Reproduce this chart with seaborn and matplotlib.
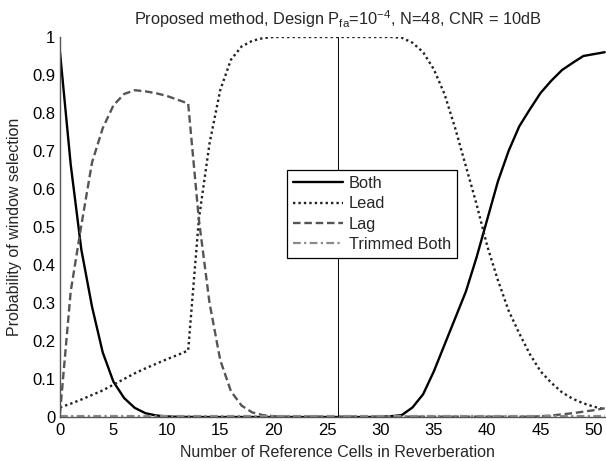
import numpy as np
import pandas as pd
import matplotlib
matplotlib.use("Agg")
import matplotlib.pyplot as plt
import seaborn as sns

# Number of reference cells in reverberation
cells = list(range(0, 52))

p_both = [0.96, 0.665, 0.44, 0.29, 0.17, 0.093, 0.05, 0.024, 0.01, 0.004,
          0.0015, 0.0005, 0.0002, 0.0001, 0, 0, 0, 0, 0, 0,
          0, 0, 0, 0, 0, 0, 0, 0, 0, 0,
          0.0005, 0.002, 0.005, 0.025, 0.06, 0.12, 0.19, 0.26, 0.33, 0.42,
          0.52, 0.62, 0.70, 0.765, 0.81, 0.853, 0.885, 0.913, 0.932, 0.95,
          0.955, 0.96]

p_lead = [0.025, 0.035, 0.046, 0.058, 0.07, 0.085, 0.1, 0.115, 0.128, 0.14,
          0.152, 0.163, 0.175, 0.52, 0.72, 0.86, 0.94, 0.975, 0.99, 0.997,
          1.0, 1.0, 1.0, 1.0, 1.0, 1.0, 1.0, 1.0, 1.0, 1.0,
          1.0, 1.0, 0.998, 0.985, 0.96, 0.915, 0.85, 0.76, 0.66, 0.56,
          0.45, 0.36, 0.28, 0.22, 0.165, 0.12, 0.09, 0.065, 0.048, 0.036,
          0.027, 0.02]

p_lag = [0.01, 0.33, 0.505, 0.67, 0.76, 0.82, 0.85, 0.86, 0.857, 0.852,
         0.845, 0.835, 0.825, 0.52, 0.30, 0.15, 0.068, 0.03, 0.012, 0.005,
         0.002, 0.001, 0.001, 0.001, 0.001, 0.001, 0.001, 0.001, 0.001, 0.001,
         0.001, 0.001, 0.001, 0.001, 0.001, 0.001, 0.001, 0.001, 0.001, 0.001,
         0.001, 0.001, 0.001, 0.001, 0.001, 0.002, 0.004, 0.007, 0.01, 0.014,
         0.018, 0.023]

p_trimmed = [0.002] * 52

series = ["Both", "Lead", "Lag", "Trimmed Both"]
x_ticks = [0, 5, 10, 15, 20, 25, 30, 35, 40, 45, 50]
y_ticks = [0, 0.1, 0.2, 0.3, 0.4, 0.5, 0.6, 0.7, 0.8, 0.9, 1]
y_ticklabels = ["0", "0.1", "0.2", "0.3", "0.4", "0.5", "0.6", "0.7", "0.8", "0.9", "1"]

df = pd.DataFrame({
    "cells": cells * 4,
    "prob": p_both + p_lead + p_lag + p_trimmed,
    "method": sum([[s] * len(cells) for s in series], []),
})

sns.set_style("white")
plt.rcParams["font.family"] = ["Liberation Sans", "DejaVu Sans"]
plt.rcParams["mathtext.fontset"] = "custom"
plt.rcParams["mathtext.rm"] = "Liberation Sans"
plt.rcParams["mathtext.it"] = "Liberation Sans"

fig = plt.figure(figsize=(6.06, 4.61), dpi=100)
ax = fig.add_axes([60 / 606, 44 / 461, 555.4 / 606, 380 / 461])

styles = {
    "Both": dict(color="black", linestyle="-", linewidth=1.7),
    "Lead": dict(color="#222222", linestyle=(0, (1, 1.3)), linewidth=1.7),
    "Lag": dict(color="#555555", linestyle=(0, (3.2, 1.6)), linewidth=1.7),
    "Trimmed Both": dict(color="#8a8a8a", linestyle=(0, (3.5, 1.5, 1, 1.5)), linewidth=1.6),
}

for name in series:
    sub = df[df["method"] == name]
    sns.lineplot(data=sub, x="cells", y="prob", ax=ax, label=name,
                 estimator=None, **styles[name])

ax.axvline(26, ymin=0, ymax=1, color="black", linewidth=0.7)

ax.set_xlim(0, 52)
ax.set_ylim(0, 1)
ax.set_xticks(x_ticks)
ax.set_yticks(y_ticks)
ax.set_yticklabels(y_ticklabels)
ax.tick_params(direction="in", length=4, width=0.8, labelsize=12, colors="black")
ax.tick_params(axis="y", pad=3.5)
ax.tick_params(axis="x", pad=4)

for side in ["top", "right"]:
    ax.spines[side].set_visible(False)
for side in ["left", "bottom"]:
    ax.spines[side].set_color("#555555")
    ax.spines[side].set_linewidth(1.0)

ax.set_xlabel("Number of Reference Cells in Reverberation", fontsize=11.5, labelpad=5)
ax.set_ylabel("Probability of window selection", fontsize=11.5, labelpad=7)
ax.set_title(r"Proposed method, Design P$_{\mathregular{fa}}$=10$^{\mathregular{-4}}$, N=48, CNR = 10dB",
             fontsize=11.8, pad=9)

leg = ax.legend(loc="upper left", bbox_to_anchor=(287 / 606, 1 - 170 / 461),
                bbox_transform=fig.transFigure, borderaxespad=0, fontsize=11.8,
                frameon=True, fancybox=False, edgecolor="black",
                handlelength=3.05, handletextpad=0.37, labelspacing=0.33,
                borderpad=0.36)
leg.get_frame().set_linewidth(0.9)
leg.get_frame().set_alpha(1)

fig.savefig("out.png", dpi=100)
